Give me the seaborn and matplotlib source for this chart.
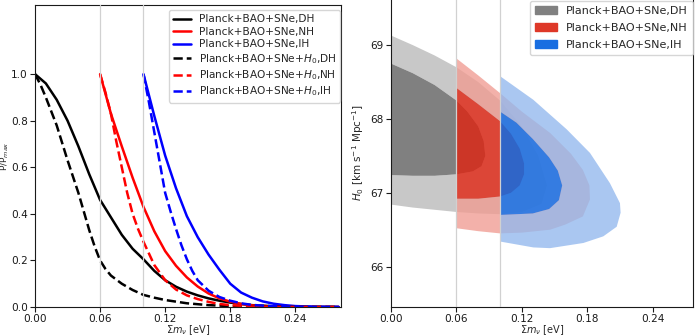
import numpy as np
import pandas as pd
import matplotlib
matplotlib.use("Agg")
import matplotlib.pyplot as plt
import seaborn as sns
from matplotlib.patches import Patch, PathPatch
from matplotlib.path import Path

# ---------------- 1D marginal posteriors of the neutrino mass sum ----------------
mnu_dh = [0, .01, .02, .03, .04, .05, .06, .07, .08, .09, .10, .11, .12, .13, .14,
          .15, .16, .17, .18, .19, .20, .22, .25, .28]
p_dh = [1.0, .96, .89, .80, .69, .57, .46, .385, .31, .25, .205, .155, .115, .087,
        .066, .05, .037, .027, .019, .013, .008, .003, .0005, 0]

mnu_nh = [.06, .07, .08, .09, .10, .11, .12, .13, .14, .15, .16, .17, .18, .19,
          .20, .22, .24, .28]
p_nh = [1.0, .83, .69, .555, .43, .325, .24, .177, .127, .088, .058, .037, .023,
        .013, .007, .002, 0, 0]

mnu_ih = [.10, .11, .12, .13, .14, .15, .16, .17, .18, .19, .20, .21, .22, .23,
          .24, .26, .28]
p_ih = [1.0, .82, .65, .51, .39, .30, .225, .16, .10, .062, .04, .024, .014, .008,
        .004, .001, 0]

mnu_dh_h0 = [0, .005, .01, .02, .03, .04, .05, .055, .06, .065, .07, .08, .09, .10,
             .11, .12, .13, .14, .16, .18, .20, .24, .28]
p_dh_h0 = [1.0, .955, .90, .78, .63, .49, .33, .26, .20, .163, .135, .10, .073,
           .052, .04, .03, .023, .016, .008, .004, .002, 0, 0]

mnu_nh_h0 = [.06, .065, .07, .075, .08, .085, .09, .095, .10, .11, .12, .13, .14,
             .15, .16, .17, .18, .20, .22, .28]
p_nh_h0 = [1.0, .92, .83, .71, .60, .49, .40, .335, .28, .18, .115, .075, .05,
           .034, .022, .013, .008, .002, 0, 0]

mnu_ih_h0 = [.10, .105, .11, .115, .12, .125, .13, .135, .14, .145, .15, .16, .17,
             .18, .19, .20, .22, .24, .28]
p_ih_h0 = [1.0, .88, .75, .62, .49, .41, .335, .265, .205, .155, .115, .07, .043,
           .027, .016, .009, .003, 0, 0]

# ---------------- 2D credible regions in the (sum m_nu, H0) plane ----------------
# DH
dh_2s_m = [0, .02, .04, .06, .08, .10, .12, .135, .143, .138, .12, .10, .08, .06, .04, .02, 0]
dh_2s_h = [69.13, 69.0, 68.86, 68.7, 68.5, 68.25, 67.9, 67.5, 67.1, 66.85, 66.74,
           66.71, 66.72, 66.74, 66.77, 66.8, 66.84]
dh_1s_m = [0, .02, .04, .06, .07, .08, .085, .0865, .083, .075, .06, .04, .02, 0]
dh_1s_h = [68.75, 68.62, 68.46, 68.25, 68.1, 67.9, 67.7, 67.5, 67.36, 67.29, 67.25,
           67.23, 67.23, 67.24]
# NH
nh_2s_m = [.06, .08, .10, .12, .146, .165, .176, .182, .1825, .176, .16, .146, .12,
           .10, .08, .06]
nh_2s_h = [68.82, 68.59, 68.35, 68.1, 67.81, 67.53, 67.31, 67.1, 66.91, 66.68,
           66.57, 66.50, 66.46, 66.45, 66.48, 66.52]
nh_1s_m = [.06, .08, .10, .11, .118, .122, .122, .118, .11, .10, .08, .06]
nh_1s_h = [68.42, 68.2, 67.97, 67.8, 67.6, 67.4, 67.25, 67.1, 67.0, 66.95, 66.92, 66.92]
# IH
ih_2s_m = [.10, .1305, .1611, .1825, .2008, .21, .2106, .207, .1947, .1764, .1458,
           .1305, .10]
ih_2s_h = [68.58, 68.26, 67.86, 67.54, 67.13, 66.86, 66.73, 66.54, 66.41, 66.32,
           66.25, 66.26, 66.34]
ih_1s_m = [.10, .115, .13, .145, .153, .157, .154, .145, .13, .10]
ih_1s_h = [68.1, 67.95, 67.73, 67.48, 67.3, 67.1, 66.9, 66.78, 66.72, 66.7]

x_ticks = [0.00, 0.06, 0.12, 0.18, 0.24]
x_ticklabels = ["0.00", "0.06", "0.12", "0.18", "0.24"]
p_ticks = [0.0, 0.2, 0.4, 0.6, 0.8, 1.0]
h_ticks = [66, 67, 68, 69]
mass_bounds = [0.06, 0.10]

sns.set_style("ticks")
plt.rcParams.update({
    "font.family": ["DejaVu Sans"],
    "mathtext.fontset": "dejavusans",
    "font.size": 8,
    "axes.edgecolor": "0.1",
    "xtick.color": "0.1",
    "ytick.color": "0.1",
    "xtick.labelsize": 7.6,
    "ytick.labelsize": 7.6,
    "xtick.major.pad": 1.4,
    "ytick.major.pad": 1.6,
})

fig = plt.figure(figsize=(7, 3.36), dpi=100)
ax1 = fig.add_axes([0.05, 0.0863, 0.437, 0.899])
ax2 = fig.add_axes([0.5586, 0.0863, 0.4314, 0.92])

# ---- left: 1D posteriors ----
series = [
    (mnu_dh, p_dh, "Planck+BAO+SNe,DH", "black", "-"),
    (mnu_nh, p_nh, "Planck+BAO+SNe,NH", "red", "-"),
    (mnu_ih, p_ih, "Planck+BAO+SNe,IH", "blue", "-"),
    (mnu_dh_h0, p_dh_h0, r"Planck+BAO+SNe+$H_0$,DH", "black", "--"),
    (mnu_nh_h0, p_nh_h0, r"Planck+BAO+SNe+$H_0$,NH", "red", "--"),
    (mnu_ih_h0, p_ih_h0, r"Planck+BAO+SNe+$H_0$,IH", "blue", "--"),
]
for m, p, lab, col, ls in series:
    df = pd.DataFrame({"mnu": m, "p": p})
    sns.lineplot(data=df, x="mnu", y="p", ax=ax1, color=col, linestyle=ls,
                 lw=1.8, label=lab, estimator=None, sort=False)

for ax in (ax1, ax2):
    for b in mass_bounds:
        ax.axvline(b, color="0.82", lw=0.9, zorder=5)

xlabel = r"$\Sigma m_\nu$ [eV]"
ax1.set_xlim(0, 0.282)
ax1.set_ylim(0, 1.297)
ax1.set_xticks(x_ticks)
ax1.set_xticklabels(x_ticklabels)
ax1.set_yticks(p_ticks)
ax1.set_xlabel(xlabel, fontsize=7.0)
ax1.xaxis.set_label_coords(0.5, -0.053)
ax1.set_ylabel(r"P/P$_{max}$", fontsize=6.5)
ax1.yaxis.set_label_coords(-0.078, 0.5)
ax1.legend(loc="upper right", bbox_to_anchor=(0.998, 0.983), borderaxespad=0,
           fontsize=7.6, labelspacing=0.24, borderpad=0.4,
           handlelength=1.7, handletextpad=0.7, framealpha=0.8)


# ---- right: 2D credible regions (inner region filled, outer drawn as a ring) ----
def region_path(m, h, hole_m=None, hole_h=None):
    verts = list(zip(m, h)) + [(m[0], h[0])]
    codes = [Path.MOVETO] + [Path.LINETO] * (len(m) - 1) + [Path.CLOSEPOLY]
    if hole_m is not None:
        hv = list(zip(hole_m, hole_h))[::-1]
        verts += hv + [hv[0]]
        codes += [Path.MOVETO] + [Path.LINETO] * (len(hv) - 1) + [Path.CLOSEPOLY]
    return Path(verts, codes)


regions = [
    (dh_2s_m, dh_2s_h, dh_1s_m, dh_1s_h, "#c8c8c8", "#808080", 1.0),
    (nh_2s_m, nh_2s_h, nh_1s_m, nh_1s_h, "#f09c92", "#e2210e", 0.78),
    (ih_2s_m, ih_2s_h, ih_1s_m, ih_1s_h, "#92b8ee", "#006ef1", 0.78),
]
for om, oh, im, ih, c_out, c_in, a in regions:
    ax2.add_patch(PathPatch(region_path(om, oh, im, ih), facecolor=c_out,
                            edgecolor="none", alpha=a))
    ax2.add_patch(PathPatch(region_path(im, ih), facecolor=c_in,
                            edgecolor="none", alpha=a))

ax2.set_xlim(0, 0.277)
ax2.set_ylim(65.453, 69.64)
ax2.set_xticks(x_ticks)
ax2.set_xticklabels(x_ticklabels)
ax2.set_yticks(h_ticks)
ax2.set_xlabel(xlabel, fontsize=7.0)
ax2.xaxis.set_label_coords(0.5, -0.052)
ax2.set_ylabel(r"$H_0$ [km s$^{-1}$ Mpc$^{-1}$]", fontsize=7.5)
ax2.yaxis.set_label_coords(-0.082, 0.5)
handles = [Patch(color="#808080", label="Planck+BAO+SNe,DH"),
           Patch(color="#de3828", label="Planck+BAO+SNe,NH"),
           Patch(color="#196ee1", label="Planck+BAO+SNe,IH")]
ax2.legend(handles=handles, loc="upper right", bbox_to_anchor=(1.0, 0.99),
           borderaxespad=0, fontsize=8, labelspacing=0.62, borderpad=0.45,
           handlelength=2.0, framealpha=0.8)

fig.savefig("out.png", dpi=100)
